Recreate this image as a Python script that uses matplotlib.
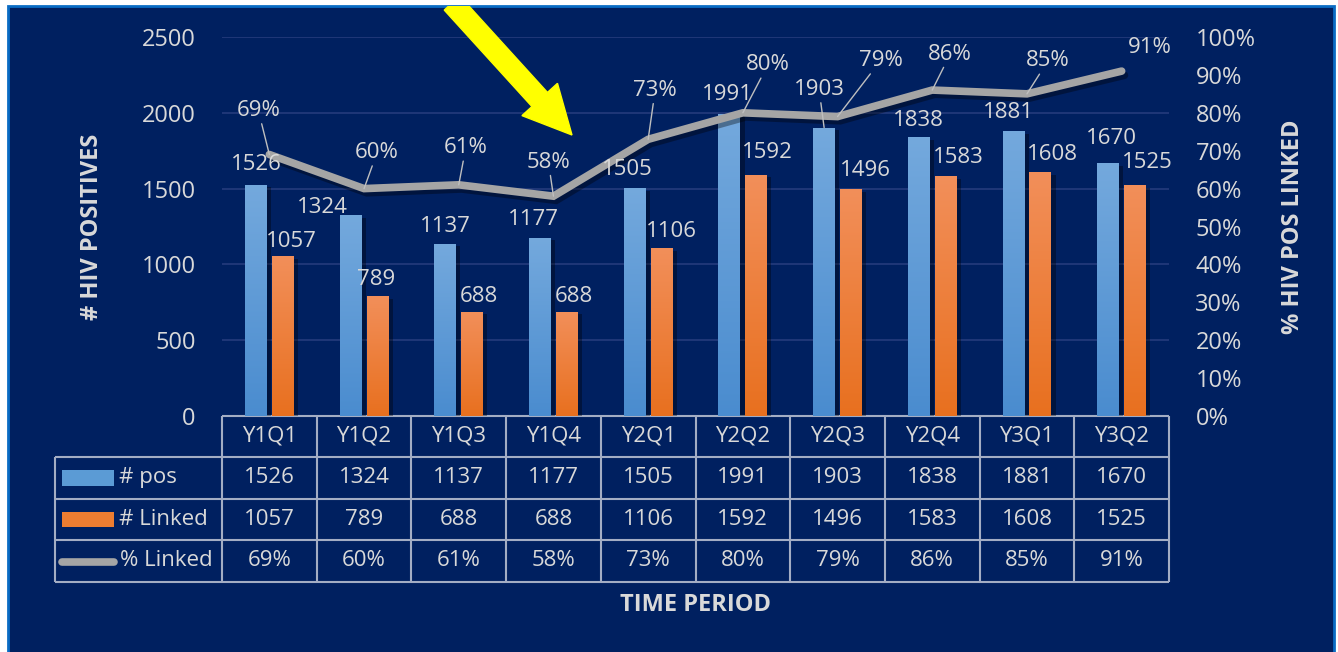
import matplotlib.pyplot as plt
import numpy as np
from matplotlib import patheffects as pe
from matplotlib.colors import LinearSegmentedColormap
from matplotlib.patches import Rectangle, FancyArrow
from matplotlib.ticker import PercentFormatter
from matplotlib.transforms import blended_transform_factory, IdentityTransform

plt.rcParams['font.family'] = ['Open Sans', 'DejaVu Sans']

periods = ['Y1Q1', 'Y1Q2', 'Y1Q3', 'Y1Q4', 'Y2Q1', 'Y2Q2', 'Y2Q3', 'Y2Q4', 'Y3Q1', 'Y3Q2']
n_pos = [1526, 1324, 1137, 1177, 1505, 1991, 1903, 1838, 1881, 1670]
n_linked = [1057, 789, 688, 688, 1106, 1592, 1496, 1583, 1608, 1525]
pct_linked = [0.69, 0.60, 0.61, 0.58, 0.73, 0.80, 0.79, 0.86, 0.85, 0.91]

# label nudges in pixels (dx, dy up), as placed in the original
pos_nudge = [(0, 20), (-28, 8), (0, 17), (-7, 18), (-7, 18), (-2, 20), (-5, 38), (0, 17), (-5, 18), (3, 24)]
linked_nudge = [(9, 14), (-1, 17), (7, 15), (7, 15), (10, 17), (11, 22), (14, 19), (13, 19), (12, 18), (12, 22)]
pct_nudge = [(-11, 44), (13, 36), (7, 37), (-5, 34), (7, 49), (25, 48), (43, 56), (18, 36), (21, 33), (28, 24)]
pct_leader = [True] * 9 + [False]

NAVY = '#002060'
TXT = '#d9d9d9'
GRID = '#22397a'
TLINE = '#a3adc4'
BLUE = '#5b9bd5'
ORANGE = '#ed7d31'
GRAY = '#a5a5a5'

W, H = 1338, 652
fig = plt.figure(figsize=(W / 100, H / 100), dpi=100, facecolor='white')

bg = Rectangle((8 / W, -0.01), (1334 - 8) / W, (H - 6) / H + 0.01, transform=fig.transFigure,
               facecolor=NAVY, edgecolor='#0a6cc4', lw=2, zorder=-10)
fig.add_artist(bg)

ax = fig.add_axes([222 / W, (H - 416) / H, (1169 - 222) / W, (416 - 37) / H])
ax.patch.set_visible(False)
x = np.arange(len(periods))
w = 0.232
off = 0.142

b1 = ax.bar(x - off, n_pos, w, color=BLUE, zorder=3)
b2 = ax.bar(x + off, n_linked, w, color=ORANGE, zorder=3)

blue_cmap = LinearSegmentedColormap.from_list('b', ['#4a8ccf', '#74a9dd'])
orange_cmap = LinearSegmentedColormap.from_list('o', ['#e8701f', '#f28f5a'])
grad = np.linspace(0, 1, 256).reshape(-1, 1)
for bars, cmap in ((b1, blue_cmap), (b2, orange_cmap)):
    for r in bars:
        r.set_path_effects([pe.SimplePatchShadow(offset=(3, -2), shadow_rgbFace='black', alpha=0.35), pe.Normal()])
        im = ax.imshow(grad, extent=[r.get_x(), r.get_x() + r.get_width(), 0, r.get_height()],
                       origin='lower', aspect='auto', cmap=cmap, zorder=3.5)
        im.set_clip_path(r)

ax.set_yticks(np.arange(0, 2501, 500))
ax.grid(axis='y', color=GRID, lw=1.3)
ax.set_axisbelow(True)
ax.tick_params(axis='y', length=0, pad=19, labelsize=17, labelcolor=TXT)
ax.tick_params(axis='x', length=0, labelbottom=False)
for s in ax.spines.values():
    s.set_visible(False)

ax2 = ax.twinx()
ax2.patch.set_visible(False)
ax2.plot(x, pct_linked, color=GRAY, lw=5.5, solid_capstyle='round', solid_joinstyle='miter',
         path_effects=[pe.SimpleLineShadow(offset=(2, -3), shadow_color='black', alpha=0.35), pe.Normal()])
ax2.set_ylim(0, 1)
ax2.set_yticks(np.arange(0, 1.01, 0.1))
ax2.yaxis.set_major_formatter(PercentFormatter(1.0, decimals=0))
ax2.tick_params(axis='y', length=0, pad=19, labelsize=17, labelcolor=TXT)
for s in ax2.spines.values():
    s.set_visible(False)

# bar value labels go on the top axes so they sit above the line
for i in range(len(periods)):
    dx, dy = pos_nudge[i]
    props = dict(arrowstyle='-', color='#bfbfbf', lw=1, shrinkA=0, shrinkB=0) if dy > 30 else None
    ax2.annotate(str(n_pos[i]), (x[i] - off, n_pos[i]), xycoords=ax.transData, xytext=(dx, dy),
                 textcoords='offset pixels', ha='center', va='center', fontsize=16, color=TXT,
                 zorder=5, arrowprops=props)
    dx, dy = linked_nudge[i]
    ax2.annotate(str(n_linked[i]), (x[i] + off, n_linked[i]), xycoords=ax.transData, xytext=(dx, dy),
                 textcoords='offset pixels', ha='center', va='center', fontsize=16, color=TXT, zorder=5)

for i in range(len(periods)):
    dx, dy = pct_nudge[i]
    props = dict(arrowstyle='-', color='#bfbfbf', lw=1, shrinkA=0, shrinkB=0) if pct_leader[i] else None
    ax2.annotate(f'{round(pct_linked[i] * 100)}%', (x[i], pct_linked[i]), xytext=(dx, dy),
                 textcoords='offset pixels', ha='center', va='center', fontsize=16, color=TXT,
                 arrowprops=props)

ax.set_ylabel('# HIV POSITIVES', fontsize=17, fontweight='bold', color=TXT, va='center')
ax.yaxis.set_label_coords(-0.137, 0.5)
ax2.set_ylabel('% HIV POS LINKED', fontsize=17, fontweight='bold', color=TXT, va='center', rotation=90)
ax2.yaxis.set_label_coords(1.131, 0.5)

# data table under the plot
tr = blended_transform_factory(ax.transData, ax.transAxes)
rows_y = [0, -0.108, -0.219, -0.327, -0.438]
leg_left = -2.263
ln = dict(transform=tr, clip_on=False, color=TLINE, lw=1.5, solid_capstyle='butt')
ax.plot([-0.5, 9.5], [0, 0], **ln)
for yy in rows_y[1:]:
    ax.plot([leg_left, 9.5], [yy, yy], **ln)
for xb in np.arange(-0.5, 10):
    ax.plot([xb, xb], [0, rows_y[-1]], **ln)
ax.plot([leg_left, leg_left], [rows_y[1], rows_y[-1]], **ln)

cell = dict(transform=tr, ha='center', va='center', fontsize=16, color=TXT, clip_on=False)
row_c = [-0.054, -0.1635, -0.273, -0.3825]
for i in range(len(periods)):
    ax.text(x[i], row_c[0], periods[i], **cell)
    ax.text(x[i], row_c[1], str(n_pos[i]), **cell)
    ax.text(x[i], row_c[2], str(n_linked[i]), **cell)
    ax.text(x[i], row_c[3], f'{round(pct_linked[i] * 100)}%', **cell)

ax.add_patch(Rectangle((-2.19, row_c[1] - 0.021), 0.55, 0.042, transform=tr, clip_on=False,
                       facecolor=BLUE, lw=0))
ax.add_patch(Rectangle((-2.19, row_c[2] - 0.021), 0.55, 0.042, transform=tr, clip_on=False,
                       facecolor=ORANGE, lw=0))
ax.plot([-2.19, -1.64], [row_c[3] - 0.002, row_c[3] - 0.002], transform=tr, clip_on=False,
        color=GRAY, lw=5.5, solid_capstyle='round')
leg = dict(transform=tr, ha='left', va='center', fontsize=16, color=TXT, clip_on=False)
ax.text(-1.59, row_c[1], '# pos', **leg)
ax.text(-1.59, row_c[2], '# Linked', **leg)
ax.text(-1.58, row_c[3], '% Linked', **leg)

ax.text(0.5, -0.499, 'TIME PERIOD', transform=ax.transAxes, ha='center', va='center',
        fontsize=17, fontweight='bold', color=TXT)

ax.set_xlim(-0.5, 9.5)
ax.set_ylim(0, 2500)

# yellow callout arrow
arrow = FancyArrow(452, H - 3, 572 - 452, -(135 - 3), width=21, head_width=48, head_length=48,
                   length_includes_head=True, color='#ffff00', transform=IdentityTransform(), zorder=20)
arrow.set_clip_path(bg)
fig.add_artist(arrow)

fig.savefig('out.png', dpi=100, facecolor='white')
